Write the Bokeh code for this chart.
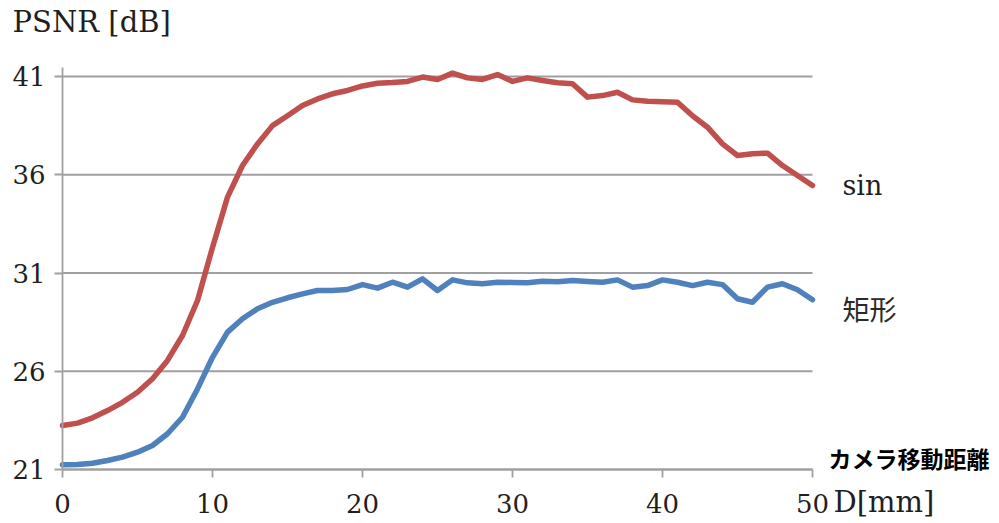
from bokeh.plotting import figure
from bokeh.models import Label, FixedTicker, Range1d
from bokeh.embed import file_html
from bokeh.resources import INLINE

# Camera displacement D [mm]
distance_mm = list(range(0, 51))

# PSNR [dB] for the sinusoidal pattern
psnr_sin = [23.24, 23.36, 23.63, 24.00, 24.42, 24.93, 25.62, 26.55, 27.82, 29.60,
            32.30, 34.86, 36.47, 37.57, 38.50, 39.00, 39.52, 39.86, 40.12, 40.29,
            40.52, 40.66, 40.69, 40.75, 40.97, 40.85, 41.17, 40.93, 40.85, 41.10,
            40.75, 40.93, 40.80, 40.68, 40.63, 39.95, 40.03, 40.20, 39.81, 39.74,
            39.71, 39.69, 39.00, 38.42, 37.57, 36.98, 37.07, 37.10, 36.47, 35.96,
            35.45]

# PSNR [dB] for the rectangular pattern
psnr_rect = [21.24, 21.25, 21.32, 21.46, 21.63, 21.88, 22.22, 22.82, 23.66, 25.10,
             26.71, 27.99, 28.67, 29.18, 29.51, 29.74, 29.94, 30.11, 30.11, 30.16,
             30.41, 30.23, 30.53, 30.28, 30.70, 30.11, 30.65, 30.50, 30.45, 30.53,
             30.52, 30.50, 30.58, 30.55, 30.62, 30.57, 30.53, 30.65, 30.28, 30.36,
             30.65, 30.53, 30.36, 30.53, 30.41, 29.69, 29.51, 30.28, 30.45, 30.15,
             29.64]

x_ticks = [0, 10, 20, 30, 40, 50]
y_ticks = [21, 26, 31, 36, 41]

SERIF = '"DejaVu Serif"'
CJK = '"Noto Sans CJK JP"'
GRAY = "#a0a0a4"
INK = "#1f1f1f"

W, H = 999, 523
# the frame fills the canvas; data area spans 15 px per mm and 19.65 px per dB
X_PX, Y_PX = 15.0, 19.65
x_lo = -62 / X_PX
x_hi = 50 + (W - 812) / X_PX
y_lo = 21 - (H - 469) / Y_PX
y_hi = 41 + 76 / Y_PX

p = figure(width=W, height=H, output_backend="svg", toolbar_location=None,
           x_range=Range1d(x_lo, x_hi), y_range=Range1d(y_lo, y_hi),
           min_border=0)
p.outline_line_color = None
p.background_fill_color = "white"
p.border_fill_color = "white"
p.xgrid.visible = False
p.ygrid.visible = False

for ax in (p.xaxis[0], p.yaxis[0]):
    ax.axis_line_color = GRAY
    ax.axis_line_width = 1.8
    ax.major_tick_line_color = GRAY
    ax.major_tick_line_width = 1.8
    ax.major_tick_in = 0
    ax.major_tick_out = 8
    ax.minor_tick_line_color = None
    ax.major_label_text_font = "DejaVu Serif"
    ax.major_label_text_font_size = "26px"
    ax.major_label_text_color = INK

p.xaxis.ticker = FixedTicker(ticks=x_ticks)
p.yaxis.ticker = FixedTicker(ticks=y_ticks)
p.xaxis.bounds = (0, 50)
p.yaxis.bounds = (21, 41.45)
p.xaxis.fixed_location = 21
p.yaxis.fixed_location = 0
p.xaxis.major_label_standoff = 16
p.yaxis.major_label_standoff = 9

# horizontal grid lines across the data area only
p.segment(x0=[0] * len(y_ticks), y0=y_ticks, x1=[50] * len(y_ticks), y1=y_ticks,
          line_color=GRAY, line_width=1.8)

p.line(distance_mm, psnr_sin, line_color="#c0504d", line_width=5.5,
       line_join="round", line_cap="round")
p.line(distance_mm, psnr_rect, line_color="#4f81bd", line_width=5.5,
       line_join="round", line_cap="round")

labels = [
    Label(x=-3.33, y=43.76, text="PSNR [dB]", text_font=SERIF,
          text_font_size="29px", text_color=INK, text_baseline="alphabetic"),
    Label(x=51.4, y=19.37, text="D[mm]", text_font=SERIF,
          text_font_size="29px", text_color=INK, text_baseline="alphabetic"),
    Label(x=52.0, y=35.46, text="sin", text_font=SERIF,
          text_font_size="27px", text_color=INK, text_baseline="alphabetic"),
    Label(x=52.0, y=29.19, text="矩形", text_font=CJK,
          text_font_size="27px", text_color="#2a2a2a", text_baseline="middle"),
    Label(x=51.07, y=21.56, text="カメラ移動距離", text_font=CJK,
          text_font_size="23px", text_font_style="bold", text_color="black",
          text_baseline="middle"),
]
for lab in labels:
    p.add_layout(lab)

open("out.html", "w").write(file_html(p, INLINE))
